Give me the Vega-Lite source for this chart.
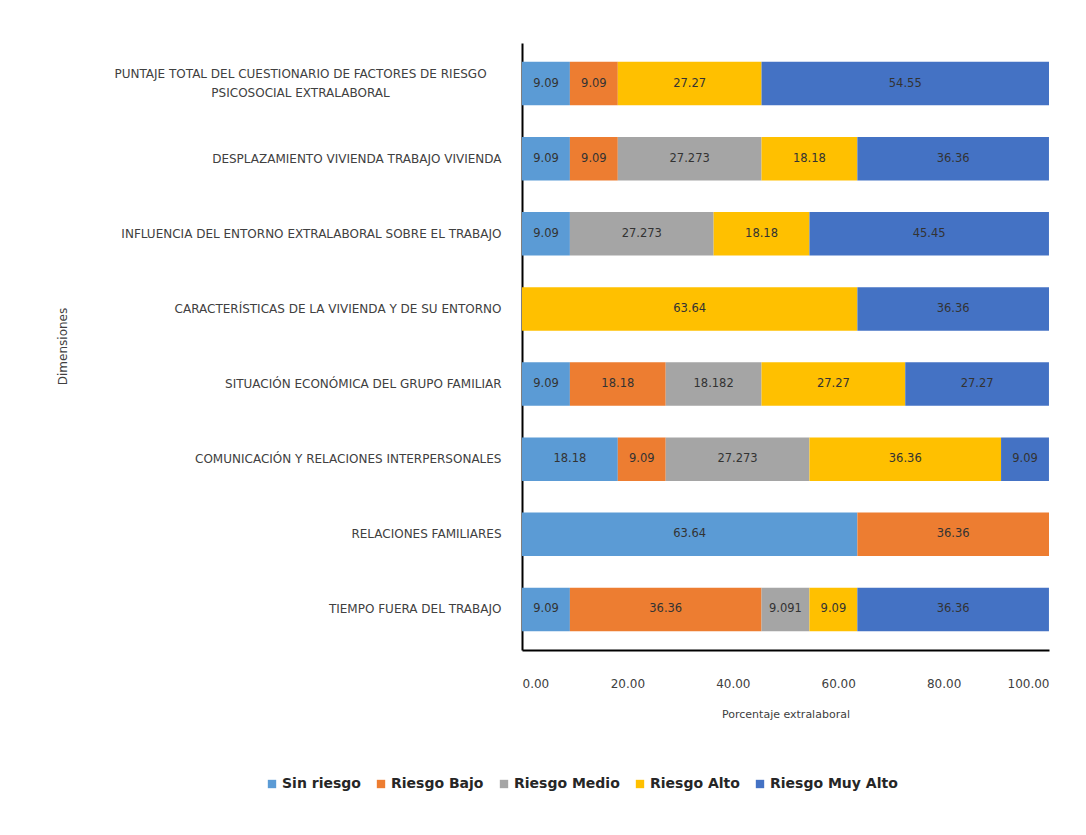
{
  "$schema": "https://vega.github.io/schema/vega-lite/v6.json",
  "width": 527,
  "height": 607,
  "autosize": {"type": "none"},
  "padding": {"left": 522, "top": 43, "right": 37, "bottom": 185},
  "background": "white",
  "data": {
    "values": [
      {"dimension": "PUNTAJE TOTAL DEL CUESTIONARIO DE FACTORES DE RIESGO PSICOSOCIAL EXTRALABORAL", "nivel": "Sin riesgo", "orden": 1, "valor": 9.09},
      {"dimension": "PUNTAJE TOTAL DEL CUESTIONARIO DE FACTORES DE RIESGO PSICOSOCIAL EXTRALABORAL", "nivel": "Riesgo Bajo", "orden": 2, "valor": 9.09},
      {"dimension": "PUNTAJE TOTAL DEL CUESTIONARIO DE FACTORES DE RIESGO PSICOSOCIAL EXTRALABORAL", "nivel": "Riesgo Alto", "orden": 4, "valor": 27.27},
      {"dimension": "PUNTAJE TOTAL DEL CUESTIONARIO DE FACTORES DE RIESGO PSICOSOCIAL EXTRALABORAL", "nivel": "Riesgo Muy Alto", "orden": 5, "valor": 54.55},

      {"dimension": "DESPLAZAMIENTO VIVIENDA TRABAJO VIVIENDA", "nivel": "Sin riesgo", "orden": 1, "valor": 9.09},
      {"dimension": "DESPLAZAMIENTO VIVIENDA TRABAJO VIVIENDA", "nivel": "Riesgo Bajo", "orden": 2, "valor": 9.09},
      {"dimension": "DESPLAZAMIENTO VIVIENDA TRABAJO VIVIENDA", "nivel": "Riesgo Medio", "orden": 3, "valor": 27.273},
      {"dimension": "DESPLAZAMIENTO VIVIENDA TRABAJO VIVIENDA", "nivel": "Riesgo Alto", "orden": 4, "valor": 18.18},
      {"dimension": "DESPLAZAMIENTO VIVIENDA TRABAJO VIVIENDA", "nivel": "Riesgo Muy Alto", "orden": 5, "valor": 36.36},

      {"dimension": "INFLUENCIA DEL ENTORNO EXTRALABORAL SOBRE EL TRABAJO", "nivel": "Sin riesgo", "orden": 1, "valor": 9.09},
      {"dimension": "INFLUENCIA DEL ENTORNO EXTRALABORAL SOBRE EL TRABAJO", "nivel": "Riesgo Medio", "orden": 3, "valor": 27.273},
      {"dimension": "INFLUENCIA DEL ENTORNO EXTRALABORAL SOBRE EL TRABAJO", "nivel": "Riesgo Alto", "orden": 4, "valor": 18.18},
      {"dimension": "INFLUENCIA DEL ENTORNO EXTRALABORAL SOBRE EL TRABAJO", "nivel": "Riesgo Muy Alto", "orden": 5, "valor": 45.45},

      {"dimension": "CARACTERÍSTICAS DE LA VIVIENDA Y DE SU ENTORNO", "nivel": "Riesgo Alto", "orden": 4, "valor": 63.64},
      {"dimension": "CARACTERÍSTICAS DE LA VIVIENDA Y DE SU ENTORNO", "nivel": "Riesgo Muy Alto", "orden": 5, "valor": 36.36},

      {"dimension": "SITUACIÓN ECONÓMICA DEL GRUPO FAMILIAR", "nivel": "Sin riesgo", "orden": 1, "valor": 9.09},
      {"dimension": "SITUACIÓN ECONÓMICA DEL GRUPO FAMILIAR", "nivel": "Riesgo Bajo", "orden": 2, "valor": 18.18},
      {"dimension": "SITUACIÓN ECONÓMICA DEL GRUPO FAMILIAR", "nivel": "Riesgo Medio", "orden": 3, "valor": 18.182},
      {"dimension": "SITUACIÓN ECONÓMICA DEL GRUPO FAMILIAR", "nivel": "Riesgo Alto", "orden": 4, "valor": 27.27},
      {"dimension": "SITUACIÓN ECONÓMICA DEL GRUPO FAMILIAR", "nivel": "Riesgo Muy Alto", "orden": 5, "valor": 27.27},

      {"dimension": "COMUNICACIÓN Y RELACIONES INTERPERSONALES", "nivel": "Sin riesgo", "orden": 1, "valor": 18.18},
      {"dimension": "COMUNICACIÓN Y RELACIONES INTERPERSONALES", "nivel": "Riesgo Bajo", "orden": 2, "valor": 9.09},
      {"dimension": "COMUNICACIÓN Y RELACIONES INTERPERSONALES", "nivel": "Riesgo Medio", "orden": 3, "valor": 27.273},
      {"dimension": "COMUNICACIÓN Y RELACIONES INTERPERSONALES", "nivel": "Riesgo Alto", "orden": 4, "valor": 36.36},
      {"dimension": "COMUNICACIÓN Y RELACIONES INTERPERSONALES", "nivel": "Riesgo Muy Alto", "orden": 5, "valor": 9.09},

      {"dimension": "RELACIONES FAMILIARES", "nivel": "Sin riesgo", "orden": 1, "valor": 63.64},
      {"dimension": "RELACIONES FAMILIARES", "nivel": "Riesgo Bajo", "orden": 2, "valor": 36.36},

      {"dimension": "TIEMPO FUERA DEL TRABAJO", "nivel": "Sin riesgo", "orden": 1, "valor": 9.09},
      {"dimension": "TIEMPO FUERA DEL TRABAJO", "nivel": "Riesgo Bajo", "orden": 2, "valor": 36.36},
      {"dimension": "TIEMPO FUERA DEL TRABAJO", "nivel": "Riesgo Medio", "orden": 3, "valor": 9.091},
      {"dimension": "TIEMPO FUERA DEL TRABAJO", "nivel": "Riesgo Alto", "orden": 4, "valor": 9.09},
      {"dimension": "TIEMPO FUERA DEL TRABAJO", "nivel": "Riesgo Muy Alto", "orden": 5, "valor": 36.36}
    ]
  },
  "transform": [
    {"stack": "valor", "groupby": ["dimension"], "sort": [{"field": "orden", "order": "ascending"}], "as": ["inicio", "fin"]},
    {"calculate": "(datum.inicio + datum.fin) / 2", "as": "centro"}
  ],
  "encoding": {
    "y": {
      "field": "dimension",
      "type": "nominal",
      "sort": null,
      "scale": {"paddingInner": 0.42, "paddingOuter": 0.25},
      "axis": {
        "title": "Dimensiones",
        "titleAngle": -90,
        "titleX": -460,
        "titleY": 303,
        "titleAlign": "center",
        "titleBaseline": "middle",
        "titleFont": "DejaVu Sans",
        "titleFontSize": 12,
        "titleFontWeight": "normal",
        "titleColor": "#404040",
        "labelFont": "DejaVu Sans",
        "labelFontSize": 12,
        "labelColor": "#404040",
        "labelPadding": {"condition": {"test": "indexof(datum.label, 'PUNTAJE') == 0", "value": 222}, "value": 21},
        "labelAlign": {"condition": {"test": "indexof(datum.label, 'PUNTAJE') == 0", "value": "center"}, "value": "right"},
        "labelOffset": {"condition": {"test": "indexof(datum.label, 'PUNTAJE') == 0", "value": -10}, "value": 0},
        "labelLimit": 0,
        "labelLineHeight": 19,
        "labelExpr": "indexof(datum.label, 'PUNTAJE') == 0 ? ['PUNTAJE TOTAL DEL CUESTIONARIO DE FACTORES DE RIESGO', 'PSICOSOCIAL EXTRALABORAL'] : datum.label",
        "ticks": false,
        "domainColor": "#000000",
        "domainWidth": 2
      }
    }
  },
  "layer": [
    {
      "mark": {"type": "bar"},
      "encoding": {
        "x": {
          "field": "inicio",
          "type": "quantitative",
          "scale": {"domain": [0, 100], "nice": false},
          "axis": {
            "title": "Porcentaje extralaboral",
            "values": [0, 20, 40, 60, 80, 100],
            "format": ".2f",
            "grid": false,
            "ticks": false,
            "labelPadding": 28,
            "labelFont": "DejaVu Sans",
            "labelFontSize": 12,
            "labelColor": "#404040",
            "titleFont": "DejaVu Sans",
            "titleFontSize": 11,
            "titleFontWeight": "normal",
            "titleColor": "#404040",
            "titlePadding": 19,
            "domainColor": "#000000",
            "domainWidth": 2
          }
        },
        "x2": {"field": "fin"},
        "color": {
          "field": "nivel",
          "type": "nominal",
          "scale": {
            "domain": ["Sin riesgo", "Riesgo Bajo", "Riesgo Medio", "Riesgo Alto", "Riesgo Muy Alto"],
            "range": ["#5B9BD5", "#ED7D31", "#A5A5A5", "#FFC000", "#4472C4"]
          },
          "legend": {
            "title": null,
            "orient": "none",
            "legendX": -257,
            "legendY": 734,
            "direction": "horizontal",
            "columns": 5,
            "symbolType": "square",
            "symbolSize": 70,
            "symbolStrokeWidth": 0,
            "labelFont": "DejaVu Sans",
            "labelFontSize": 14,
            "labelFontWeight": "bold",
            "labelColor": "#262626",
            "labelOffset": 3,
            "labelLimit": 0,
            "columnPadding": 13
          }
        }
      }
    },
    {
      "mark": {"type": "text", "align": "center", "baseline": "middle", "font": "DejaVu Sans", "fontSize": 11.5, "color": "#333333"},
      "encoding": {
        "x": {"field": "centro", "type": "quantitative"},
        "text": {"field": "valor", "type": "quantitative"}
      }
    }
  ],
  "config": {
    "view": {"stroke": null}
  }
}
